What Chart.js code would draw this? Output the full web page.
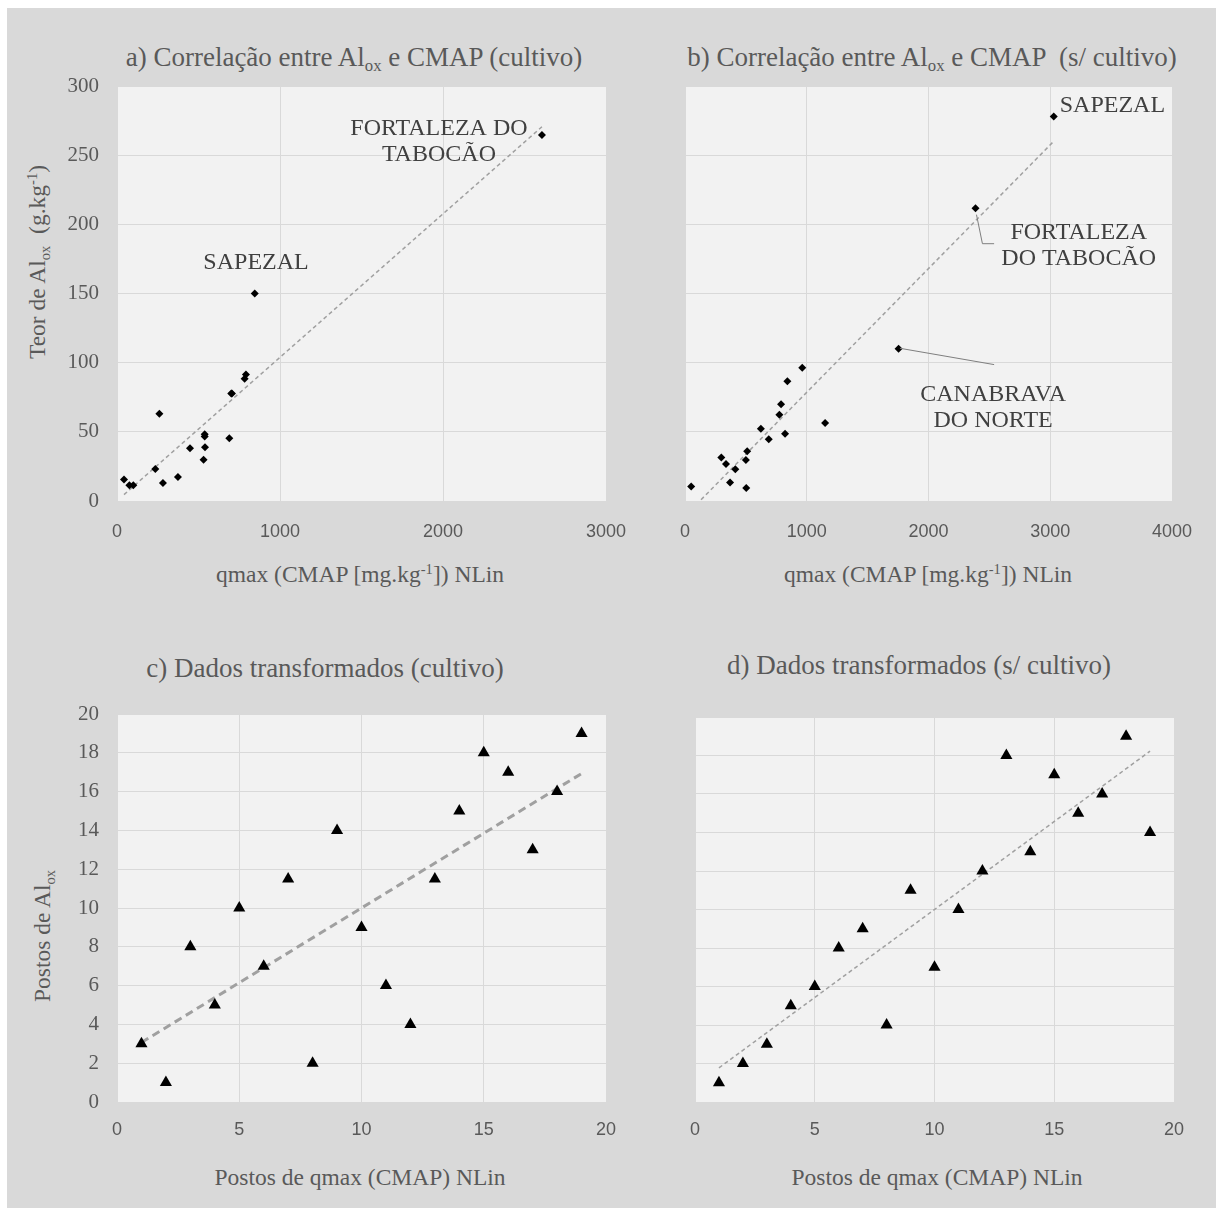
<!DOCTYPE html>
<html>
<head>
<meta charset="utf-8">
<script src="https://cdn.jsdelivr.net/npm/chart.js@4"></script>
<style>
  body { margin: 0; background: #fff; width: 1216px; height: 1208px; position: relative; overflow: hidden;
         font-family: "Liberation Serif", serif; color: #595959; }
  #bg { position: absolute; left: 7px; top: 8px; right: 0; bottom: 0; background: #d9d9d9; }
  canvas { position: absolute; }
  .t { position: absolute; white-space: nowrap; transform: translate(-50%, -50%); line-height: 1; }
  .v { transform: translate(-50%, -50%) rotate(-90deg); }
  sub { font-size: 0.62em; vertical-align: -0.3em; line-height: 0; }
  sup { font-size: 0.62em; vertical-align: 0.55em; line-height: 0; }
</style>
</head>
<body>
<div id="bg"></div>

<div class="t" style="left:354px;top:57px;font-size:27px">a) Correlação entre Al<sub>ox</sub> e CMAP (cultivo)</div>
<div class="t" style="left:932px;top:57px;font-size:27px">b) Correlação entre Al<sub>ox</sub> e CMAP &nbsp;(s/ cultivo)</div>
<div class="t" style="left:325px;top:668px;font-size:27px">c) Dados transformados (cultivo)</div>
<div class="t" style="left:919px;top:665px;font-size:27px">d) Dados transformados (s/ cultivo)</div>

<div class="t v" style="left:38px;top:262px;font-size:23.5px">Teor de Al<sub>ox</sub> &nbsp;(g.kg<sup>-1</sup>)</div>
<div class="t v" style="left:43px;top:936px;font-size:23.5px">Postos de Al<sub>ox</sub></div>

<div class="t" style="left:360px;top:575px;font-size:23.5px">qmax (CMAP [mg.kg<sup>-1</sup>]) NLin</div>
<div class="t" style="left:928px;top:575px;font-size:23.5px">qmax (CMAP [mg.kg<sup>-1</sup>]) NLin</div>
<div class="t" style="left:360px;top:1178px;font-size:23.5px">Postos de qmax (CMAP) NLin</div>
<div class="t" style="left:937px;top:1178px;font-size:23.5px">Postos de qmax (CMAP) NLin</div>

<canvas id="ca" width="600" height="480" style="left:40px;top:70px"></canvas>
<canvas id="cb" width="540" height="480" style="left:660px;top:70px"></canvas>
<canvas id="cc" width="600" height="450" style="left:40px;top:700px"></canvas>
<canvas id="cd" width="540" height="450" style="left:660px;top:700px"></canvas>

<script>
// a) cultivo: qmax (CMAP) vs teor de Al_ox
const qmaxA = [43, 76, 100, 235, 260, 282, 374, 448, 531, 538, 538, 540, 689, 701, 705, 783, 791, 845, 2607];
const aloxA = [15.5, 11.4, 11.4, 23.2, 63, 13, 17.4, 38.1, 29.9, 48.3, 46.6, 38.8, 45.4, 77.8, 77.8, 88.4, 91.5, 150, 264.5];

// b) sem cultivo
const qmaxB = [51, 298, 337, 370, 413, 500, 503, 511, 623, 688, 775, 789, 822, 841, 963, 1151, 1754, 2386, 3029];
const aloxB = [10.4, 31.4, 26.8, 13.3, 23, 29.7, 9.4, 36, 52.2, 44.7, 62.3, 70, 48.6, 86.5, 96.4, 56.3, 110, 211.6, 278];

// c) / d) postos (ranks)
const postosQmax = [1, 2, 3, 4, 5, 6, 7, 8, 9, 10, 11, 12, 13, 14, 15, 16, 17, 18, 19];
const postosAlC  = [3, 1, 8, 5, 10, 7, 11.5, 2, 14, 9, 6, 4, 11.5, 15, 18, 17, 13, 16, 19];
const postosAlD  = [1, 2, 3, 5, 6, 8, 9, 4, 11, 7, 10, 12, 18, 13, 17, 15, 16, 19, 14];

const SERIF = '"Liberation Serif", serif';
const SANS = '"Liberation Sans", sans-serif';
const TXT = '#595959';

// least squares trendline over the data range
function trend(xs, ys) {
  const n = xs.length;
  const mx = xs.reduce((a, b) => a + b) / n, my = ys.reduce((a, b) => a + b) / n;
  let sxy = 0, sxx = 0;
  xs.forEach((x, i) => { sxy += (x - mx) * (ys[i] - my); sxx += (x - mx) ** 2; });
  const b = sxy / sxx, a = my - b * mx;
  const x0 = Math.min(...xs), x1 = Math.max(...xs);
  return [{x: x0, y: a + b * x0}, {x: x1, y: a + b * x1}];
}

const plotBg = {
  id: 'plotBg',
  beforeDraw(chart) {
    const {ctx, chartArea: c} = chart;
    ctx.save();
    ctx.fillStyle = '#f2f2f2';
    ctx.fillRect(c.left, c.top, c.right - c.left, c.bottom - c.top);
    ctx.restore();
  }
};

// text labels + leader lines anchored in data coordinates
const notes = {
  id: 'notes',
  afterDatasetsDraw(chart, args, opts) {
    const {ctx, scales: {x, y}} = chart;
    ctx.save();
    (opts.leaders || []).forEach(pts => {
      ctx.strokeStyle = '#7f7f7f';
      ctx.lineWidth = 1;
      ctx.beginPath();
      pts.forEach((p, i) => {
        const px = x.getPixelForValue(p[0]), py = y.getPixelForValue(p[1]);
        i ? ctx.lineTo(px, py) : ctx.moveTo(px, py);
      });
      ctx.stroke();
    });
    ctx.fillStyle = '#404040';
    ctx.font = '24px ' + SERIF;
    ctx.textBaseline = 'middle';
    (opts.labels || []).forEach(l => {
      ctx.textAlign = l.align || 'center';
      const px = x.getPixelForValue(l.x), py = y.getPixelForValue(l.y);
      l.lines.forEach((s, i) => ctx.fillText(s, px, py + i * 26));
    });
    ctx.restore();
  }
};

function panel(id, xs, ys, o) {
  return new Chart(document.getElementById(id), {
    type: 'scatter',
    data: {
      datasets: [
        { data: xs.map((x, i) => ({x, y: ys[i]})), pointStyle: o.marker, pointRadius: o.r,
          backgroundColor: '#000', borderColor: '#000', borderWidth: 0, order: 1 },
        { data: trend(xs, ys), showLine: true, pointRadius: 0, borderColor: '#a0a0a0',
          borderWidth: o.lw, borderDash: o.dash, order: 2 }
      ]
    },
    options: {
      responsive: false, animation: false, events: [],
      layout: { padding: { top: o.top, right: o.right, left: 0, bottom: 0 } },
      plugins: { legend: { display: false }, tooltip: { enabled: false },
                 notes: { labels: o.labels || [], leaders: o.leaders || [] } },
      scales: {
        x: { type: 'linear', min: 0, max: o.xmax,
             ticks: { stepSize: o.xstep, padding: o.xpad, color: TXT, font: { family: SANS, size: 18 },
                      callback: v => String(v) },
             grid: { color: '#d9d9d9', drawTicks: false }, border: { display: false },
             afterFit: s => { s.height = o.xh; s.paddingLeft = 0; s.paddingRight = 0; } },
        y: { min: 0, max: o.ymax,
             ticks: { display: o.yticks, stepSize: o.ystep, padding: 18, color: TXT, font: { family: SERIF, size: 21 } },
             grid: { color: '#d9d9d9', drawTicks: false }, border: { display: false },
             afterFit: s => { s.width = o.yw; s.paddingTop = 0; s.paddingBottom = 0; } }
      }
    },
    plugins: [plotBg, notes]
  });
}

panel('ca', qmaxA, aloxA, {
  marker: 'rectRot', r: 4, lw: 1.5, dash: [4, 3],
  xmax: 3000, xstep: 1000, ymax: 300, ystep: 50, yticks: true,
  top: 16, right: 34, xh: 49, yw: 77, xpad: 20,
  labels: [
    { x: 1975, y: 269, lines: ['FORTALEZA DO', 'TABOCÃO'] },
    { x: 853, y: 172, lines: ['SAPEZAL'] }
  ]
});

panel('cb', qmaxB, aloxB, {
  marker: 'rectRot', r: 4, lw: 1.5, dash: [4, 3],
  xmax: 4000, xstep: 1000, ymax: 300, ystep: 50, yticks: false,
  top: 16, right: 28, xh: 49, yw: 25, xpad: 20,
  labels: [
    { x: 3078, y: 285.5, lines: ['SAPEZAL'], align: 'left' },
    { x: 3234, y: 194, lines: ['FORTALEZA', 'DO TABOCÃO'] },
    { x: 2531, y: 77, lines: ['CANABRAVA', 'DO NORTE'] }
  ],
  leaders: [
    [[2394, 207], [2443, 186], [2539, 186]],
    [[1765, 110.4], [2539, 98.6]]
  ]
});

panel('cc', postosQmax, postosAlC, {
  marker: 'triangle', r: 7, lw: 3, dash: [8, 5],
  xmax: 20, xstep: 5, ymax: 20, ystep: 2, yticks: true,
  top: 14, right: 34, xh: 48, yw: 77, xpad: 17
});

panel('cd', postosQmax, postosAlD, {
  marker: 'triangle', r: 7, lw: 1.5, dash: [4, 3],
  xmax: 20, xstep: 5, ymax: 20, ystep: 2, yticks: false,
  top: 17, right: 26, xh: 48, yw: 35, xpad: 17
});
</script>
</body>
</html>
